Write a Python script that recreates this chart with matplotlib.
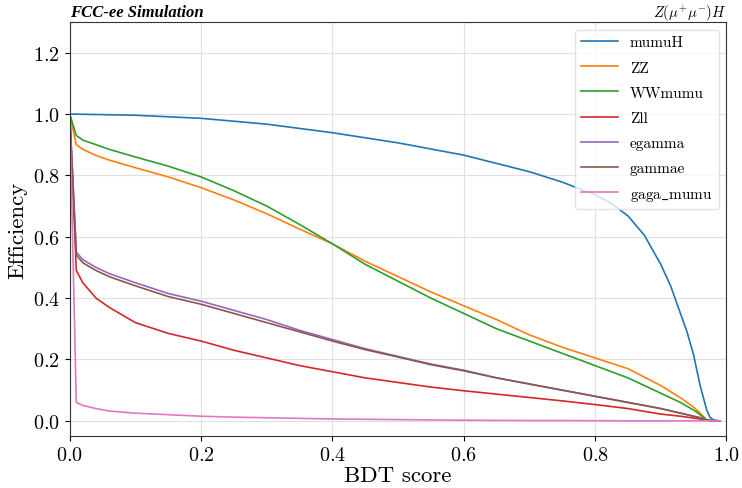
#efficiency vs BDT score for signal and backgrounds
import matplotlib.pyplot as plt

plt.rcParams['font.family'] = ['cmr10', 'DejaVu Serif']
plt.rcParams['mathtext.fontset'] = 'cm'
plt.rcParams['axes.formatter.use_mathtext'] = True
plt.rcParams['axes.unicode_minus'] = False

# BDT score grid (backgrounds)
bdt = [0, 0.01, 0.02, 0.04, 0.06, 0.1, 0.15, 0.2, 0.25, 0.3, 0.35, 0.4, 0.45, 0.5,
       0.55, 0.6, 0.65, 0.7, 0.75, 0.8, 0.85, 0.9, 0.93, 0.95, 0.96, 0.97, 0.98, 0.99]

# signal has a finer grid near the end
bdt_sig = [0, 0.05, 0.1, 0.2, 0.3, 0.4, 0.5, 0.6, 0.7, 0.75, 0.8, 0.825, 0.85, 0.875,
           0.9, 0.915, 0.93, 0.94, 0.95, 0.96, 0.97, 0.975, 0.98, 0.99]
mumuH = [1.0, 0.998, 0.996, 0.986, 0.967, 0.939, 0.906, 0.866, 0.812, 0.778, 0.737,
         0.708, 0.668, 0.605, 0.51, 0.44, 0.35, 0.29, 0.215, 0.115, 0.035, 0.012, 0.003, 0.0]

ZZ = [1.0, 0.90, 0.885, 0.865, 0.85, 0.825, 0.795, 0.76, 0.72, 0.675, 0.625, 0.577,
      0.52, 0.47, 0.42, 0.375, 0.33, 0.28, 0.24, 0.205, 0.17, 0.115, 0.075, 0.045,
      0.025, 0.003, 0.0, 0.0]
WWmumu = [1.0, 0.93, 0.915, 0.9, 0.885, 0.86, 0.83, 0.795, 0.75, 0.70, 0.64, 0.577,
          0.51, 0.455, 0.40, 0.35, 0.30, 0.26, 0.22, 0.18, 0.14, 0.09, 0.06, 0.035,
          0.02, 0.003, 0.0, 0.0]
Zll = [1.0, 0.49, 0.45, 0.40, 0.37, 0.32, 0.285, 0.26, 0.23, 0.205, 0.18, 0.16, 0.14,
       0.125, 0.11, 0.098, 0.087, 0.076, 0.065, 0.053, 0.04, 0.022, 0.015, 0.009,
       0.006, 0.002, 0.0, 0.0]
egamma = [1.0, 0.55, 0.525, 0.50, 0.48, 0.45, 0.415, 0.39, 0.36, 0.33, 0.295, 0.265,
          0.235, 0.21, 0.185, 0.165, 0.14, 0.12, 0.1, 0.08, 0.06, 0.04, 0.025, 0.015,
          0.01, 0.002, 0.0, 0.0]
gammae = [1.0, 0.54, 0.515, 0.49, 0.47, 0.44, 0.405, 0.38, 0.35, 0.32, 0.29, 0.26,
          0.232, 0.208, 0.183, 0.163, 0.14, 0.12, 0.1, 0.08, 0.06, 0.04, 0.025, 0.015,
          0.01, 0.002, 0.0, 0.0]
gaga_mumu = [1.0, 0.06, 0.05, 0.04, 0.032, 0.025, 0.02, 0.015, 0.012, 0.01, 0.008,
             0.006, 0.005, 0.004, 0.003, 0.002, 0.0015, 0.001, 0.001, 0.0005, 0.0, 0.0,
             0.0, 0.0, 0.0, 0.0, 0.0, 0.0]

backgrounds = [('ZZ', ZZ), ('WWmumu', WWmumu), ('Zll', Zll), ('egamma', egamma),
               ('gammae', gammae), (r'$\mathrm{gaga\_mumu}$', gaga_mumu)]

fig = plt.figure(figsize=(7.42, 4.89), dpi=100)
ax = fig.add_axes([0.094, 0.106, 0.885, 0.847])

ax.plot(bdt_sig, mumuH, lw=1.2, label='mumuH')
for name, vals in backgrounds:
    ax.plot(bdt, vals, lw=1.2, label=name)

ax.set_xlim(0, 1)
ax.set_ylim(-0.05, 1.3)
ax.grid(True, color='#e0e0e0', lw=0.8)
ax.set_axisbelow(True)
ax.tick_params(labelsize=14.5)
ax.set_xlabel('BDT score', fontsize=16.5, labelpad=1)
ax.set_ylabel('Efficiency', fontsize=16.5, labelpad=4)
for sp in ax.spines.values():
    sp.set_color('#333333')

ax.set_title('FCC-ee Simulation', loc='left', fontsize=12, fontweight='bold',
             style='italic', family='Liberation Serif', pad=4)
ax.set_title(r'$Z(\mu^{+}\mu^{-})H$', loc='right', fontsize=10.5, pad=4)

ax.legend(loc='upper right', fontsize=11, framealpha=0.8, edgecolor='#dddddd',
          handlelength=2.4, labelspacing=0.75)

fig.savefig('out.png', dpi=100)
